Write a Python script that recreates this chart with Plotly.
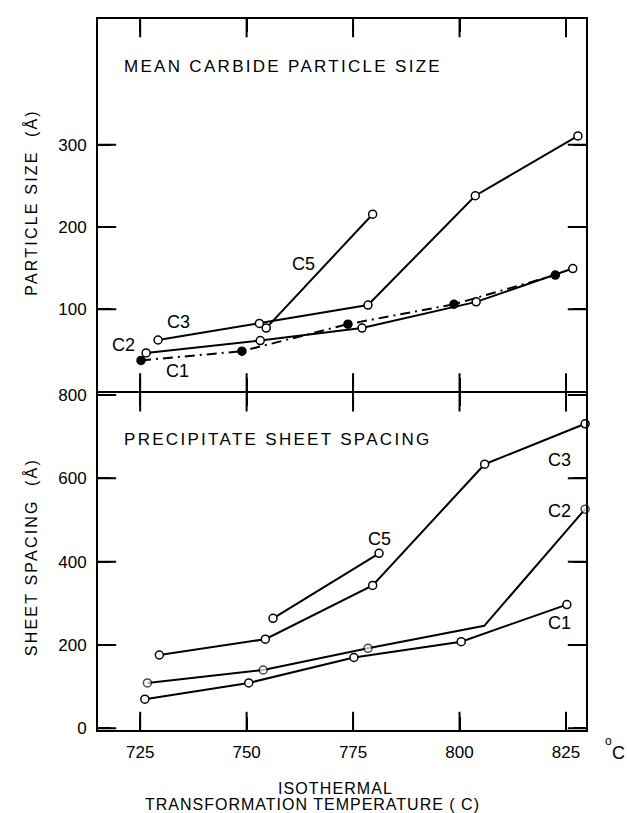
import plotly.graph_objects as go

# ---------------- data ----------------
# Top panel: mean carbide particle size (Å)
c3_size_t = [729.2, 753.0, 778.5, 803.7, 827.8]
c3_size_v = [62.5, 82.7, 105.0, 238.0, 310.8]
c5_size_t = [754.6, 779.6]
c5_size_v = [77.0, 215.5]
c2_size_t = [726.4, 753.2, 777.1, 803.9, 826.6]
c2_size_v = [46.8, 61.8, 77.0, 108.9, 149.4]
c1_size_t = [725.2, 748.9, 773.8, 798.7, 822.5]
c1_size_v = [37.7, 48.9, 81.8, 106.0, 141.5]

# Bottom panel: precipitate sheet spacing (Å)
c3_sheet_t = [729.5, 754.4, 779.6, 805.9, 829.5]
c3_sheet_v = [176, 214, 343, 634, 731]
c5_sheet_t = [756.2, 781.1]
c5_sheet_v = [264, 420]
c2_sheet_t = [726.7, 753.9, 778.5, 805.8, 829.5]
c2_sheet_v = [109, 140, 192, 246, 526]
c2_sheet_marked = [True, True, True, False, True]
c1_sheet_t = [726.1, 750.5, 775.2, 800.4, 825.2]
c1_sheet_v = [70, 109, 170, 208, 297]

x_ticks = [725, 750, 775, 800, 825]
size_ticks = [100, 200, 300]
sheet_ticks = [0, 200, 400, 600, 800]

x_range = [715.1, 829.7]
size_range = [0, 453]
sheet_range = [-4, 804]

# series labels (name, temperature, value)
size_labels = [("C5", 763.3, 155), ("C3", 733.9, 84), ("C2", 721.2, 56), ("C1", 733.7, 25)]
sheet_labels = [("C3", 823.4, 645), ("C2", 823.4, 522), ("C5", 781.1, 455), ("C1", 823.4, 253)]

# ---------------- layout helpers ----------------
W, H = 627, 813
L, R, T, B = 98, 41, 14, 83
PW, PH = W - L - R, H - T - B
SPLIT = 340 / PH
LW = 2
FONT = "Liberation Sans, Arial, sans-serif"


def px(xp):
    return (xp - L) / PW


def py(yp):
    return (H - B - yp) / PH


fig = go.Figure()

open_marker = dict(symbol="circle", size=8, color="white", line=dict(color="black", width=1.5))
filled_marker = dict(symbol="circle", size=8, color="black", line=dict(color="black", width=1.5))
line = dict(color="black", width=2)


# inside tick marks (half of each centred line mark is clipped away by the plot area)
def tick_marks(xs, ys, xa, ya, symbol):
    fig.add_trace(go.Scatter(x=xs, y=ys, mode="markers", xaxis=xa, yaxis=ya,
                             marker=dict(symbol=symbol, size=26, color="black",
                                         line=dict(color="black", width=2)),
                             cliponaxis=True, showlegend=False, hoverinfo="skip"))


for xa, ya, yr, yt in [("x", "y", sheet_range, sheet_ticks), ("x2", "y2", size_range, size_ticks)]:
    tick_marks(x_ticks * 2, [yr[0]] * len(x_ticks) + [yr[1]] * len(x_ticks), xa, ya, "line-ns")
    tick_marks([x_range[0]] * len(yt) + [x_range[1]] * len(yt), yt * 2, xa, ya, "line-ew")

# top panel
for t, v in [(c3_size_t, c3_size_v), (c5_size_t, c5_size_v), (c2_size_t, c2_size_v)]:
    fig.add_trace(go.Scatter(x=t, y=v, mode="lines+markers", line=line, marker=open_marker,
                             xaxis="x2", yaxis="y2", showlegend=False, cliponaxis=False))
fig.add_trace(go.Scatter(x=c1_size_t, y=c1_size_v, mode="lines+markers",
                         line=dict(color="black", width=2, dash="10px,5px,2px,5px"),
                         marker=filled_marker, xaxis="x2", yaxis="y2", showlegend=False, cliponaxis=False))

# bottom panel
for t, v in [(c3_sheet_t, c3_sheet_v), (c5_sheet_t, c5_sheet_v), (c1_sheet_t, c1_sheet_v)]:
    fig.add_trace(go.Scatter(x=t, y=v, mode="lines+markers", line=line, marker=open_marker,
                             xaxis="x", yaxis="y", showlegend=False, cliponaxis=False))
fig.add_trace(go.Scatter(x=c2_sheet_t, y=c2_sheet_v, mode="lines+markers", line=line,
                         marker=dict(symbol="circle", color="white",
                                     size=[8 if m else 0 for m in c2_sheet_marked],
                                     line=dict(color="black", width=1.5)),
                         xaxis="x", yaxis="y", showlegend=False, cliponaxis=False))

axis_common = dict(showline=True, linecolor="black", linewidth=LW, ticks="inside", ticklen=13,
                   tickwidth=2, tickcolor="black", mirror="ticks", showgrid=False, zeroline=False,
                   ticklabelstandoff=6,
                   tickfont=dict(family=FONT, size=17, color="black"))

annotations = []
for name, t, v in size_labels:
    annotations.append(dict(text=name, x=t, y=v, xref="x2", yref="y2", showarrow=False,
                            font=dict(family=FONT, size=18, color="black")))
for name, t, v in sheet_labels:
    annotations.append(dict(text=name, x=t, y=v, xref="x", yref="y", showarrow=False,
                            font=dict(family=FONT, size=18, color="black")))


def note(text, xp, yp, size=16, xanchor="center", angle=0, spacing=None):
    if spacing is not None:
        text = f'<span style="letter-spacing:{spacing}px">{text}</span>'
    annotations.append(dict(text=text, x=px(xp), y=py(yp), xref="paper", yref="paper",
                            showarrow=False, xanchor=xanchor, yanchor="middle", textangle=angle,
                            font=dict(family=FONT, size=size, color="black")))


note("MEAN CARBIDE PARTICLE SIZE", 122, 62, size=17, xanchor="left", spacing=2.3)
note("PRECIPITATE SHEET SPACING", 122, 437, size=17, xanchor="left", spacing=2.3)
note("PARTICLE SIZE  (Å)", 31, 199, size=16, angle=-90, spacing=2.2)
note("SHEET SPACING  (Å)", 31, 556, size=16, angle=-90, spacing=2.2)
note("ISOTHERMAL", 335, 789, size=16, spacing=1.1)
note("TRANSFORMATION TEMPERATURE ( C)", 312, 805, size=16, spacing=1.0)
note("o", 608, 741, size=12)
note("C", 618, 753, size=18)

half = (LW / 2) / PH
fig.update_layout(
    width=W, height=H,
    margin=dict(l=L, r=R, t=T, b=B),
    paper_bgcolor="white", plot_bgcolor="rgba(0,0,0,0)",
    xaxis=dict(range=x_range, domain=[0, 1], anchor="y", tickvals=x_ticks, **axis_common),
    yaxis=dict(range=sheet_range, domain=[0, SPLIT - half], anchor="x", tickvals=sheet_ticks,
               **axis_common),
    xaxis2=dict(range=x_range, domain=[0, 1], anchor="y2", tickvals=x_ticks,
                showticklabels=False, **axis_common),
    yaxis2=dict(range=size_range, domain=[SPLIT + half, 1], anchor="x2", tickvals=size_ticks,
                **axis_common),
    annotations=annotations,
    showlegend=False,
)

fig.write_html("out.html")
